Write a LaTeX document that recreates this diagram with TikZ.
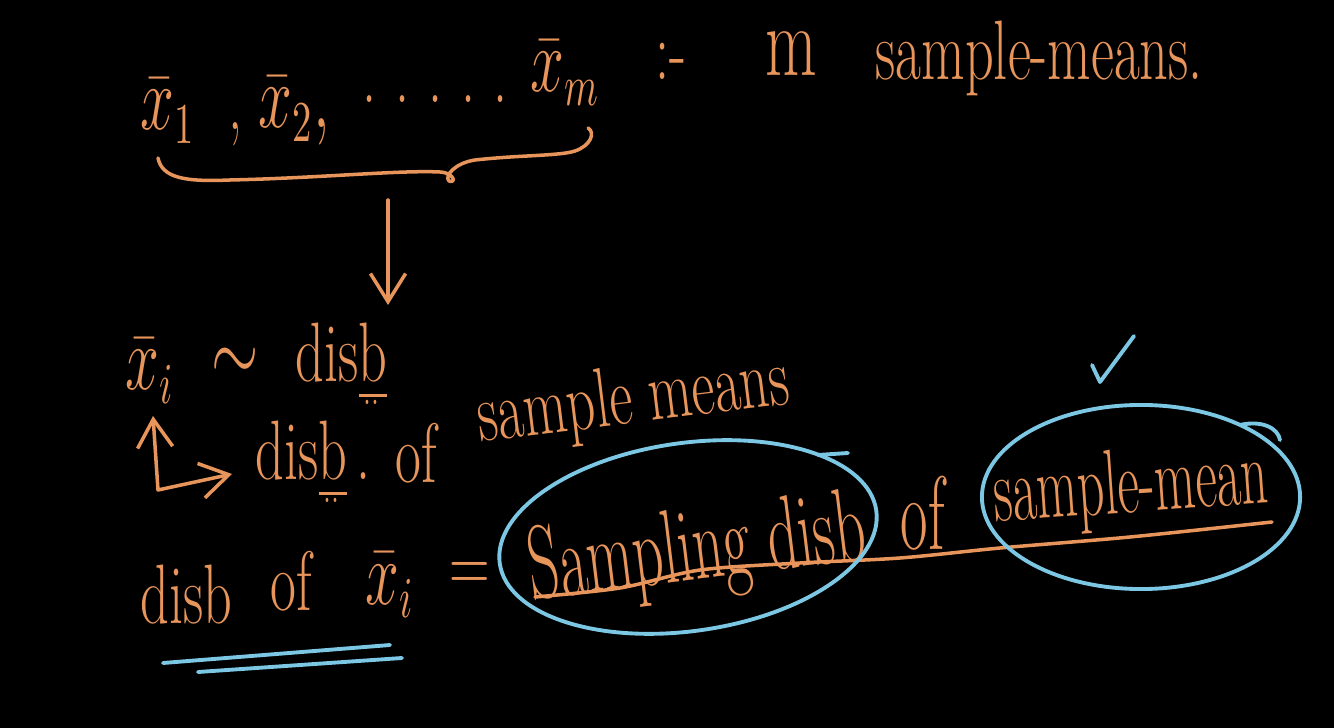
\documentclass[tikz,border=0pt]{standalone}
\usepackage{amsmath}
\usetikzlibrary{arrows.meta}
\definecolor{chalk}{HTML}{E8955C}
\definecolor{marker}{HTML}{7CC8E4}
\newcommand{\hw}[2][1.5]{\scalebox{1}[#1]{#2}}
\newcommand{\abbr}{\underline{b}\llap{\raisebox{-0.62ex}{\scriptsize..}\hspace{0.15em}}}

\begin{document}
\begin{tikzpicture}[
  x=0.01cm, y=0.01cm,
  every node/.style={text=chalk, inner sep=0pt, anchor=base west,
    font=\fontsize{16}{18}\selectfont},
  big/.style={font=\fontsize{17}{20}\selectfont},
  pen/.style={draw=chalk, line width=1pt, line cap=round, line join=round},
  hl/.style={draw=marker, line width=1.1pt, line cap=round, line join=round},
  >={Straight Barb[length=8pt,width=10pt]}
]
  \fill[black] (0,0) rectangle (1334,-728);

  % the m sample means
  \node (xa)    at (140,-130)  {\hw{$\bar{x}_1$}};
  \node (cm)    at (228,-130)  {\hw{,}};
  \node (xb)    at (258,-128)  {\hw{$\bar{x}_2,$}};
  \node (dots)  at (362,-103)  {\hw{.\,\,.\,\,.\,\,.\,\,.}};
  \node (xm)    at (530,-92)   {\hw{$\bar{x}_m$}};
  \node (sep)   at (655,-80)   {\hw{:-}};
  \node[font=\fontsize{19}{20}\selectfont] (m) at (765,-76) {\hw{m}};
  \node (means) at (875,-80)   {\hw{sample-means.}};

  \draw[pen] (158,-158) .. controls (162,-178) and (185,-182) .. (230,-180)
    .. controls (320,-178) and (400,-170) .. (440,-172)
    .. controls (455,-173) and (456,-184) .. (449,-181)
    .. controls (444,-176) and (455,-163) .. (475,-160)
    .. controls (520,-155) and (560,-156) .. (575,-151)
    .. controls (590,-146) and (596,-133) .. (588,-128);

  \coordinate (bt) at (388,-200);
  \coordinate (be) at (388,-305);
  \draw[pen,->] (bt) -- (be);

  % xbar_i ~ disb
  \node (xi)   at (125,-390) {\hw{$\bar{x}_i$}};
  \node[anchor=center] (tl) at (235,-365) {\hw{$\sim$}};
  \node (dis)  at (295,-382) {\hw{dis\abbr}};

  \node (dis2) at (255,-480) {\hw{dis\abbr\,.}};
  \node (of1)  at (395,-482) {\hw{of}};
  \node[rotate=7] (sm) at (480,-442) {\hw{sample means}};

  \coordinate (up)   at (153,-416);
  \coordinate (bend) at (158,-490);
  \coordinate (rt)   at (232,-474);
  \draw[pen,<->] (up) -- (bend) -- (rt);

  % disb of xbar_i = ...
  \node (dis3) at (140,-623) {\hw{disb}};
  \node (of2)  at (270,-610) {\hw{of}};
  \node (xi2)  at (365,-604) {\hw{$\bar{x}_i$}};
  \node[anchor=center] (eq) at (470,-577) {\hw{=}};

  \draw[hl] (163,-663) -- (390,-645);
  \draw[hl] (198,-672) -- (402,-658);

  \node[big,rotate=7] (samp) at (532,-600) {\hw[1.75]{Sampling disb}};
  \node[big] (of3) at (900,-550) {\hw[1.75]{of}};
  \node[big,font=\fontsize{15}{18}\selectfont,rotate=4] (sm2) at (995,-522) {\hw[1.75]{sample-mean}};

  \draw[pen] plot[smooth] coordinates {(535,-597) (620,-588) (700,-570) (800,-563)
    (900,-558) (1000,-548) (1130,-537) (1272,-522)};

  % circled terms
  \draw[hl, rotate around={8:(688,-537)}] (688,-537) ellipse [x radius=1.9cm, y radius=0.94cm];
  \draw[hl] (818,-455) -- (848,-453);
  \draw[hl] (1141,-497) ellipse [x radius=1.59cm, y radius=0.92cm];
  \draw[hl] (1240,-425) .. controls (1262,-420) and (1278,-428) .. (1280,-440);
  \draw[hl] (1092,-365) -- (1100,-382) -- (1134,-336);
\end{tikzpicture}
\end{document}
